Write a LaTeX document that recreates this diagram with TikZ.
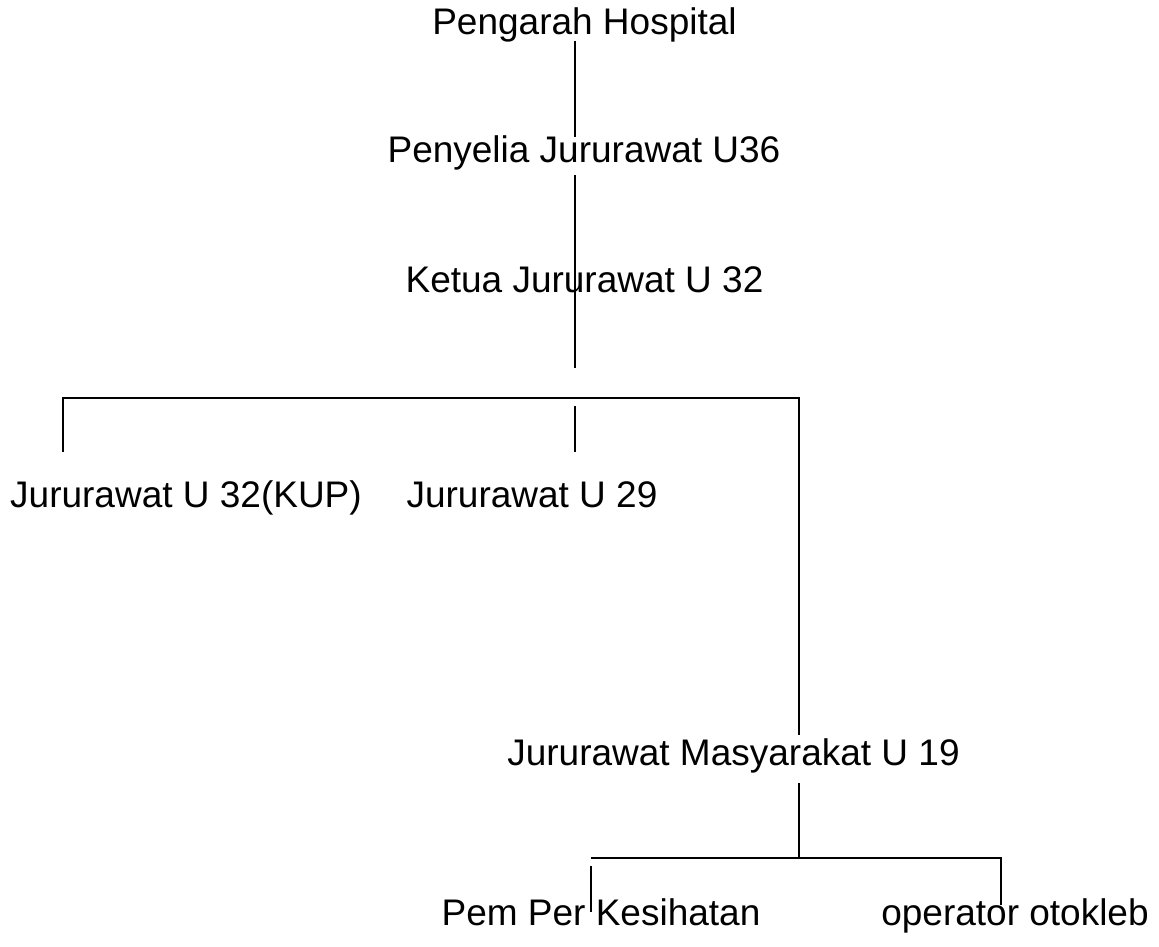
\documentclass[tikz,border=0pt]{standalone}
\usepackage{fontspec}
\setmainfont{Liberation Sans}
\begin{document}
\begin{tikzpicture}[x=1pt,y=-1pt,
  lbl/.style={font=\fontsize{37}{44}\selectfont, inner sep=0pt, anchor=base},
  conn/.style={line width=1.4pt, line cap=butt},
  bar/.style={line width=1.9pt}]
\useasboundingbox (0,0) rectangle (1159,947);
% labels
\node[lbl] (ph)  at (584.5,35)  {Pengarah Hospital};
\node[lbl] (pj)  at (584,163)   {Penyelia Jururawat U36};
\node[lbl] (kj)  at (584.5,292) {Ketua Jururawat U 32};
\node[lbl] (jk)  at (186,507)   {Jururawat U 32(KUP)};
\node[lbl] (j29) at (532,507)   {Jururawat U 29};
\node[lbl] (jm)  at (733.5,765) {Jururawat Masyarakat U 19};
\node[lbl] (pp)  at (601,925)   {Pem Per Kesihatan};
\node[lbl] (oo)  at (1015,925)  {operator otokleb};
% connector end points
\coordinate (phB) at (575,41);
\coordinate (pjT) at (575,137);
\coordinate (pjB) at (575,175);
\coordinate (kjB) at (575,368);
\coordinate (barL) at (63,398);
\coordinate (barR) at (799,398);
\coordinate (midT) at (575,406);
\coordinate (jkT) at (63,452);
\coordinate (j29T) at (575,452);
\coordinate (jmT) at (799,735);
\coordinate (jmB) at (799,783);
\coordinate (bar2M) at (799,858);
\coordinate (bar2L) at (591,858);
\coordinate (bar2R) at (1001,858);
\coordinate (ppT) at (591,866);
\coordinate (ppE) at (591,912);
\coordinate (ooT) at (1001,905);
% connectors
\draw[conn] (phB) -- (pjT);
\draw[conn] (pjB) -- (kjB);
\draw[bar] (jkT) -- (barL) -- (barR) -- (jmT);
\draw[conn] (midT) -- (j29T);
\draw[bar] (jmB) -- (bar2M);
\draw[bar] (bar2L) -- (bar2R) -- (ooT);
\draw[conn] (ppT) -- (ppE);
\end{tikzpicture}
\end{document}
